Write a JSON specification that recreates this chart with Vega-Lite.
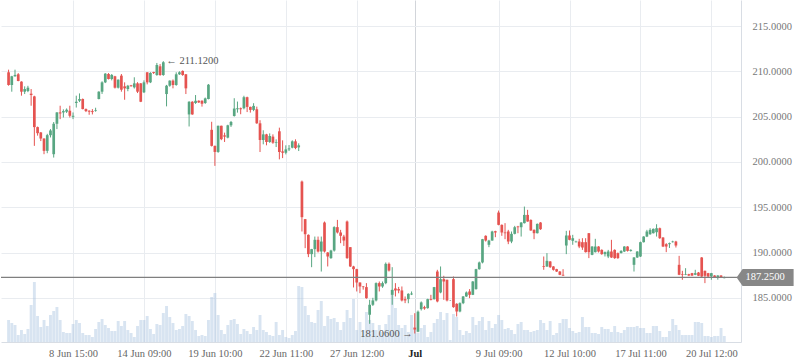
{
"$schema":"https://vega.github.io/schema/vega-lite/v6.json",
"width":740,"height":342,"padding":0,"background":"white",
"config":{"view":{"stroke":null},"font":"Liberation Serif"},
"datasets":{"candles":[
{"i":0,"o":209.89,"h":210.18,"l":208.41,"c":208.49,"v":22},
{"i":1,"o":208.49,"h":209.5,"l":207.75,"c":209.45,"v":19},
{"i":2,"o":209.45,"h":210.18,"l":209.4,"c":209.6,"v":17},
{"i":3,"o":209.67,"h":209.8,"l":208.9,"c":208.93,"v":7},
{"i":4,"o":208.86,"h":208.9,"l":207.31,"c":207.75,"v":12},
{"i":5,"o":207.75,"h":208.34,"l":207.49,"c":208.04,"v":8},
{"i":6,"o":207.82,"h":208.4,"l":207.7,"c":208.19,"v":13},
{"i":7,"o":207.53,"h":208.04,"l":206.2,"c":207.38,"v":37},
{"i":8,"o":207.23,"h":207.3,"l":201.77,"c":203.84,"v":60},
{"i":9,"o":203.84,"h":203.9,"l":202.9,"c":203.17,"v":26},
{"i":10,"o":203.25,"h":203.3,"l":202.3,"c":202.58,"v":15},
{"i":11,"o":202.58,"h":202.6,"l":200.85,"c":201.22,"v":22},
{"i":12,"o":201.22,"h":203.1,"l":200.96,"c":202.95,"v":16},
{"i":13,"o":202.95,"h":203.62,"l":202.7,"c":203.47,"v":27},
{"i":14,"o":200.85,"h":204.4,"l":200.48,"c":204.21,"v":31},
{"i":15,"o":204.21,"h":205.5,"l":203.62,"c":205.46,"v":35},
{"i":16,"o":205.46,"h":206.2,"l":204.72,"c":205.35,"v":22},
{"i":17,"o":205.46,"h":205.8,"l":204.9,"c":205.61,"v":10},
{"i":18,"o":205.54,"h":205.9,"l":205.4,"c":205.76,"v":9},
{"i":19,"o":205.65,"h":206.2,"l":204.9,"c":205.09,"v":9},
{"i":20,"o":204.98,"h":205.46,"l":204.72,"c":205.09,"v":18},
{"i":21,"o":206.5,"h":207.31,"l":206.0,"c":206.64,"v":22},
{"i":22,"o":206.75,"h":207.56,"l":206.6,"c":206.94,"v":19},
{"i":23,"o":206.94,"h":207.0,"l":205.8,"c":205.83,"v":9},
{"i":24,"o":205.83,"h":205.9,"l":205.5,"c":205.61,"v":7},
{"i":25,"o":205.65,"h":205.7,"l":205.2,"c":205.54,"v":7},
{"i":26,"o":205.6,"h":205.83,"l":205.24,"c":205.5,"v":5},
{"i":27,"o":205.65,"h":205.98,"l":205.54,"c":205.72,"v":13},
{"i":28,"o":206.94,"h":207.8,"l":206.9,"c":207.75,"v":20},
{"i":29,"o":207.75,"h":208.9,"l":207.5,"c":208.78,"v":23},
{"i":30,"o":208.78,"h":209.8,"l":208.7,"c":209.74,"v":17},
{"i":31,"o":209.7,"h":209.8,"l":209.1,"c":209.15,"v":14},
{"i":32,"o":209.15,"h":209.7,"l":209.0,"c":209.6,"v":11},
{"i":33,"o":209.45,"h":209.5,"l":208.1,"c":208.19,"v":11},
{"i":34,"o":208.19,"h":209.1,"l":208.1,"c":209.08,"v":21},
{"i":35,"o":209.52,"h":209.7,"l":207.75,"c":207.97,"v":16},
{"i":36,"o":208.34,"h":208.78,"l":206.86,"c":208.12,"v":21},
{"i":37,"o":208.04,"h":208.5,"l":207.8,"c":208.41,"v":12},
{"i":38,"o":208.45,"h":208.5,"l":208.3,"c":208.36,"v":9},
{"i":39,"o":208.23,"h":209.34,"l":208.1,"c":208.67,"v":5},
{"i":40,"o":208.67,"h":208.8,"l":207.6,"c":207.75,"v":16},
{"i":41,"o":208.67,"h":208.7,"l":206.6,"c":206.64,"v":22},
{"i":42,"o":207.68,"h":209.0,"l":207.6,"c":208.78,"v":22},
{"i":43,"o":209.89,"h":209.9,"l":208.56,"c":208.78,"v":26},
{"i":44,"o":208.78,"h":209.9,"l":208.7,"c":209.82,"v":13},
{"i":45,"o":209.92,"h":209.95,"l":209.7,"c":209.82,"v":8},
{"i":46,"o":209.59,"h":210.92,"l":209.5,"c":210.7,"v":18},
{"i":47,"o":210.55,"h":210.8,"l":209.5,"c":209.59,"v":17},
{"i":48,"o":209.59,"h":211.12,"l":209.5,"c":211.0,"v":29},
{"i":49,"o":207.49,"h":208.5,"l":206.13,"c":208.41,"v":36},
{"i":50,"o":208.41,"h":209.0,"l":208.3,"c":208.97,"v":25},
{"i":51,"o":208.97,"h":209.1,"l":208.12,"c":208.49,"v":19},
{"i":52,"o":208.49,"h":209.89,"l":208.4,"c":209.67,"v":12},
{"i":53,"o":209.67,"h":210.0,"l":209.6,"c":209.89,"v":13},
{"i":54,"o":210.04,"h":210.1,"l":209.5,"c":209.59,"v":16},
{"i":55,"o":209.67,"h":209.7,"l":207.49,"c":208.12,"v":28},
{"i":56,"o":205.24,"h":206.7,"l":203.91,"c":206.64,"v":26},
{"i":57,"o":206.64,"h":206.7,"l":205.2,"c":205.24,"v":21},
{"i":58,"o":206.5,"h":207.38,"l":206.4,"c":206.75,"v":12},
{"i":59,"o":206.75,"h":206.8,"l":206.5,"c":206.57,"v":6},
{"i":60,"o":206.75,"h":206.8,"l":206.1,"c":206.42,"v":7},
{"i":61,"o":206.5,"h":207.1,"l":206.4,"c":207.01,"v":6},
{"i":62,"o":206.94,"h":208.6,"l":206.9,"c":208.52,"v":22},
{"i":63,"o":203.54,"h":204.43,"l":201.7,"c":201.77,"v":45},
{"i":64,"o":201.77,"h":201.8,"l":199.56,"c":201.1,"v":49},
{"i":65,"o":201.1,"h":204.0,"l":201.0,"c":203.99,"v":27},
{"i":66,"o":203.99,"h":204.0,"l":202.4,"c":202.51,"v":12},
{"i":67,"o":202.93,"h":203.23,"l":202.2,"c":202.79,"v":8},
{"i":68,"o":202.68,"h":204.1,"l":202.6,"c":204.04,"v":17},
{"i":69,"o":204.04,"h":204.52,"l":203.86,"c":204.41,"v":22},
{"i":70,"o":205.07,"h":207.03,"l":205.0,"c":205.89,"v":23},
{"i":71,"o":205.81,"h":206.66,"l":205.44,"c":205.92,"v":18},
{"i":72,"o":205.92,"h":206.0,"l":205.26,"c":205.81,"v":8},
{"i":73,"o":205.92,"h":207.3,"l":205.8,"c":207.14,"v":13},
{"i":74,"o":207.14,"h":207.2,"l":205.5,"c":206.07,"v":11},
{"i":75,"o":206.07,"h":206.1,"l":205.44,"c":205.74,"v":8},
{"i":76,"o":205.74,"h":206.48,"l":205.6,"c":206.18,"v":15},
{"i":77,"o":205.81,"h":206.1,"l":204.2,"c":204.26,"v":12},
{"i":78,"o":204.26,"h":204.6,"l":201.09,"c":202.42,"v":27},
{"i":79,"o":202.42,"h":203.49,"l":201.94,"c":203.04,"v":12},
{"i":80,"o":203.04,"h":203.1,"l":201.83,"c":202.2,"v":10},
{"i":81,"o":202.2,"h":203.15,"l":202.1,"c":202.86,"v":7},
{"i":82,"o":202.79,"h":203.04,"l":202.0,"c":202.12,"v":6},
{"i":83,"o":202.12,"h":202.49,"l":201.64,"c":202.2,"v":20},
{"i":84,"o":203.38,"h":203.78,"l":200.28,"c":201.09,"v":7},
{"i":85,"o":201.16,"h":202.38,"l":200.42,"c":201.01,"v":12},
{"i":86,"o":201.01,"h":201.83,"l":200.83,"c":201.38,"v":5},
{"i":87,"o":201.38,"h":201.86,"l":201.2,"c":201.49,"v":4},
{"i":88,"o":201.57,"h":202.38,"l":201.5,"c":202.27,"v":7},
{"i":89,"o":202.27,"h":202.49,"l":201.4,"c":201.53,"v":11},
{"i":90,"o":201.6,"h":202.05,"l":201.2,"c":201.83,"v":56},
{"i":91,"o":197.83,"h":197.94,"l":192.32,"c":193.9,"v":55},
{"i":92,"o":193.68,"h":193.7,"l":190.48,"c":192.02,"v":36},
{"i":93,"o":191.95,"h":192.0,"l":189.49,"c":189.82,"v":27},
{"i":94,"o":189.82,"h":190.4,"l":188.38,"c":190.37,"v":20},
{"i":95,"o":190.37,"h":191.76,"l":189.49,"c":191.4,"v":19},
{"i":96,"o":191.4,"h":191.76,"l":190.0,"c":190.11,"v":32},
{"i":97,"o":190.11,"h":191.76,"l":187.9,"c":191.21,"v":41},
{"i":98,"o":193.31,"h":193.42,"l":190.0,"c":190.11,"v":16},
{"i":99,"o":190.0,"h":190.05,"l":188.46,"c":189.56,"v":26},
{"i":100,"o":189.38,"h":190.3,"l":189.3,"c":190.22,"v":23},
{"i":101,"o":190.22,"h":192.9,"l":190.1,"c":192.8,"v":24},
{"i":102,"o":192.8,"h":193.6,"l":192.1,"c":192.21,"v":20},
{"i":103,"o":192.21,"h":192.5,"l":191.03,"c":191.84,"v":12},
{"i":104,"o":191.76,"h":191.95,"l":190.73,"c":191.32,"v":20},
{"i":105,"o":193.42,"h":193.53,"l":189.3,"c":189.38,"v":32},
{"i":106,"o":190.59,"h":190.6,"l":188.4,"c":188.46,"v":24},
{"i":107,"o":188.46,"h":188.53,"l":186.14,"c":188.16,"v":43},
{"i":108,"o":188.16,"h":188.2,"l":185.7,"c":186.69,"v":12},
{"i":109,"o":186.69,"h":186.7,"l":185.51,"c":186.25,"v":20},
{"i":110,"o":186.25,"h":186.3,"l":185.9,"c":186.18,"v":12},
{"i":111,"o":186.18,"h":186.62,"l":184.9,"c":184.96,"v":30},
{"i":112,"o":183.13,"h":184.78,"l":182.13,"c":184.23,"v":22},
{"i":113,"o":184.23,"h":185.0,"l":184.1,"c":184.71,"v":19},
{"i":114,"o":184.71,"h":186.7,"l":184.6,"c":186.62,"v":12},
{"i":115,"o":186.62,"h":186.8,"l":185.7,"c":186.25,"v":17},
{"i":116,"o":186.25,"h":186.8,"l":186.1,"c":186.62,"v":10},
{"i":117,"o":186.62,"h":188.9,"l":186.5,"c":188.75,"v":18},
{"i":118,"o":188.75,"h":188.9,"l":187.9,"c":188.01,"v":27},
{"i":119,"o":185.33,"h":188.38,"l":184.23,"c":185.88,"v":52},
{"i":120,"o":186.03,"h":186.62,"l":185.15,"c":185.81,"v":34},
{"i":121,"o":185.96,"h":186.2,"l":185.5,"c":185.81,"v":17},
{"i":122,"o":185.81,"h":186.25,"l":184.6,"c":184.71,"v":14},
{"i":123,"o":184.85,"h":185.15,"l":184.41,"c":184.71,"v":17},
{"i":124,"o":184.85,"h":185.5,"l":184.4,"c":185.44,"v":10},
{"i":125,"o":185.37,"h":185.7,"l":185.3,"c":185.47,"v":27},
{"i":126,"o":181.7,"h":183.3,"l":181.06,"c":181.5,"v":15},
{"i":127,"o":181.26,"h":183.6,"l":181.2,"c":183.47,"v":9},
{"i":128,"o":183.75,"h":184.6,"l":183.6,"c":184.49,"v":14},
{"i":129,"o":183.97,"h":184.12,"l":183.68,"c":183.82,"v":17},
{"i":130,"o":183.86,"h":184.9,"l":183.8,"c":184.85,"v":5},
{"i":131,"o":184.85,"h":185.33,"l":184.71,"c":184.76,"v":10},
{"i":132,"o":184.85,"h":186.2,"l":184.8,"c":186.18,"v":19},
{"i":133,"o":187.9,"h":188.09,"l":184.5,"c":184.6,"v":23},
{"i":134,"o":185.59,"h":188.46,"l":185.5,"c":187.06,"v":30},
{"i":135,"o":187.06,"h":187.43,"l":184.78,"c":186.8,"v":22},
{"i":136,"o":186.99,"h":187.0,"l":184.6,"c":184.71,"v":29},
{"i":137,"o":184.71,"h":184.75,"l":184.65,"c":184.7,"v":2},
{"i":138,"o":187.06,"h":187.35,"l":183.9,"c":183.97,"v":28},
{"i":139,"o":184.34,"h":184.4,"l":182.94,"c":183.49,"v":25},
{"i":140,"o":183.49,"h":184.5,"l":183.4,"c":184.41,"v":12},
{"i":141,"o":184.41,"h":185.2,"l":184.3,"c":185.15,"v":7},
{"i":142,"o":185.15,"h":185.7,"l":185.1,"c":185.59,"v":11},
{"i":143,"o":185.7,"h":185.96,"l":184.96,"c":185.33,"v":9},
{"i":144,"o":185.33,"h":186.85,"l":185.3,"c":186.8,"v":25},
{"i":145,"o":185.96,"h":188.2,"l":185.9,"c":188.16,"v":17},
{"i":146,"o":188.16,"h":189.0,"l":188.1,"c":188.9,"v":21},
{"i":147,"o":188.9,"h":191.5,"l":188.8,"c":191.47,"v":25},
{"i":148,"o":191.84,"h":191.9,"l":191.21,"c":191.32,"v":12},
{"i":149,"o":190.85,"h":191.4,"l":190.59,"c":191.32,"v":21},
{"i":150,"o":191.32,"h":192.4,"l":191.3,"c":192.32,"v":14},
{"i":151,"o":192.35,"h":192.4,"l":191.69,"c":192.21,"v":18},
{"i":152,"o":194.41,"h":194.63,"l":193.0,"c":193.05,"v":27},
{"i":153,"o":193.05,"h":193.1,"l":191.84,"c":192.21,"v":22},
{"i":154,"o":192.21,"h":193.24,"l":191.47,"c":192.13,"v":13},
{"i":155,"o":192.32,"h":192.5,"l":190.92,"c":191.21,"v":14},
{"i":156,"o":191.21,"h":192.32,"l":191.03,"c":192.06,"v":12},
{"i":157,"o":192.06,"h":192.94,"l":192.0,"c":192.79,"v":8},
{"i":158,"o":192.87,"h":192.94,"l":192.13,"c":192.79,"v":18},
{"i":159,"o":192.79,"h":193.35,"l":191.76,"c":193.31,"v":20},
{"i":160,"o":193.24,"h":195.07,"l":193.2,"c":194.15,"v":12},
{"i":161,"o":194.15,"h":194.71,"l":193.4,"c":193.42,"v":12},
{"i":162,"o":193.6,"h":193.65,"l":192.4,"c":192.43,"v":10},
{"i":163,"o":192.5,"h":192.55,"l":191.47,"c":192.13,"v":11},
{"i":164,"o":192.13,"h":193.2,"l":192.1,"c":193.16,"v":12},
{"i":165,"o":193.31,"h":193.35,"l":192.5,"c":192.57,"v":22},
{"i":166,"o":188.5,"h":189.56,"l":188.09,"c":188.42,"v":19},
{"i":167,"o":188.46,"h":189.93,"l":188.4,"c":189.08,"v":12},
{"i":168,"o":189.01,"h":189.05,"l":188.3,"c":188.38,"v":21},
{"i":169,"o":188.46,"h":188.5,"l":188.0,"c":188.09,"v":7},
{"i":170,"o":188.16,"h":188.2,"l":187.85,"c":187.9,"v":9},
{"i":171,"o":187.9,"h":187.95,"l":187.5,"c":187.54,"v":19},
{"i":172,"o":187.54,"h":188.16,"l":187.4,"c":187.46,"v":23},
{"i":173,"o":190.77,"h":192.39,"l":189.82,"c":191.88,"v":23},
{"i":174,"o":191.88,"h":192.43,"l":191.35,"c":191.4,"v":14},
{"i":175,"o":191.29,"h":191.95,"l":190.85,"c":191.58,"v":11},
{"i":176,"o":191.14,"h":191.3,"l":191.1,"c":191.21,"v":9},
{"i":177,"o":191.21,"h":191.51,"l":190.48,"c":190.66,"v":10},
{"i":178,"o":191.14,"h":191.58,"l":190.29,"c":190.55,"v":25},
{"i":179,"o":191.14,"h":191.58,"l":190.0,"c":190.04,"v":15},
{"i":180,"o":192.13,"h":192.15,"l":189.38,"c":190.04,"v":15},
{"i":181,"o":189.74,"h":190.7,"l":189.7,"c":190.66,"v":9},
{"i":182,"o":190.04,"h":191.51,"l":190.0,"c":190.66,"v":9},
{"i":183,"o":190.66,"h":190.7,"l":190.0,"c":190.11,"v":8},
{"i":184,"o":190.29,"h":190.35,"l":189.75,"c":189.82,"v":15},
{"i":185,"o":189.82,"h":190.11,"l":189.56,"c":190.04,"v":13},
{"i":186,"o":189.56,"h":190.29,"l":189.38,"c":190.11,"v":13},
{"i":187,"o":190.11,"h":191.4,"l":189.4,"c":189.45,"v":10},
{"i":188,"o":190.29,"h":190.35,"l":189.3,"c":189.38,"v":16},
{"i":189,"o":189.93,"h":190.0,"l":189.3,"c":189.38,"v":10},
{"i":190,"o":189.93,"h":190.25,"l":189.9,"c":190.18,"v":9},
{"i":191,"o":190.11,"h":190.7,"l":190.05,"c":190.66,"v":12},
{"i":192,"o":190.66,"h":190.7,"l":190.1,"c":190.18,"v":15},
{"i":193,"o":190.18,"h":190.35,"l":190.1,"c":190.29,"v":15},
{"i":194,"o":188.64,"h":189.5,"l":187.9,"c":189.45,"v":15},
{"i":195,"o":189.45,"h":190.15,"l":189.4,"c":190.11,"v":16},
{"i":196,"o":189.56,"h":191.2,"l":189.5,"c":191.14,"v":14},
{"i":197,"o":191.14,"h":191.8,"l":191.1,"c":191.76,"v":14},
{"i":198,"o":191.76,"h":192.5,"l":191.7,"c":192.32,"v":9},
{"i":199,"o":192.02,"h":192.68,"l":191.95,"c":192.5,"v":9},
{"i":200,"o":192.13,"h":192.65,"l":192.1,"c":192.61,"v":16},
{"i":201,"o":192.24,"h":193.12,"l":191.76,"c":192.68,"v":16},
{"i":202,"o":192.68,"h":192.75,"l":191.5,"c":191.58,"v":11},
{"i":203,"o":191.65,"h":191.7,"l":190.6,"c":190.66,"v":5},
{"i":204,"o":190.92,"h":191.03,"l":190.04,"c":190.66,"v":5},
{"i":205,"o":190.92,"h":191.1,"l":190.5,"c":191.03,"v":11},
{"i":206,"o":191.14,"h":191.3,"l":191.1,"c":191.21,"v":23},
{"i":207,"o":191.21,"h":191.29,"l":190.55,"c":190.77,"v":17},
{"i":208,"o":188.64,"h":189.63,"l":187.5,"c":187.54,"v":12},
{"i":209,"o":187.61,"h":187.98,"l":186.99,"c":187.54,"v":7},
{"i":210,"o":187.54,"h":188.27,"l":187.5,"c":187.61,"v":7},
{"i":211,"o":187.61,"h":187.65,"l":187.4,"c":187.46,"v":7},
{"i":212,"o":187.72,"h":187.75,"l":187.4,"c":187.46,"v":7},
{"i":213,"o":187.54,"h":188.09,"l":187.5,"c":187.72,"v":20},
{"i":214,"o":187.79,"h":187.85,"l":187.4,"c":187.43,"v":20},
{"i":215,"o":189.45,"h":189.5,"l":187.3,"c":187.35,"v":19},
{"i":216,"o":187.98,"h":188.0,"l":186.62,"c":187.43,"v":6},
{"i":217,"o":187.72,"h":187.75,"l":187.3,"c":187.35,"v":6},
{"i":218,"o":187.35,"h":187.75,"l":186.99,"c":187.72,"v":5},
{"i":219,"o":187.46,"h":187.5,"l":187.2,"c":187.28,"v":6},
{"i":220,"o":187.28,"h":187.5,"l":187.0,"c":187.46,"v":6},
{"i":221,"o":187.46,"h":187.5,"l":187.2,"c":187.24,"v":14},
{"i":222,"o":187.17,"h":187.35,"l":187.15,"c":187.25,"v":6}
]},
"layer":[
{"data":{"name":"candles"},
 "mark":{"type":"bar","width":2.9,"color":"#a9c3e0","opacity":0.45},
 "encoding":{
  "x":{"field":"i","type":"quantitative","title":null,"scale":{"domain":[-0.796,225.64],"nice":false,"zero":false},
   "axis":{"values":[20,42,64,86,108,126,152,174,196,218],
    "labelExpr":"datum.value==20?'8 Jun 15:00':datum.value==42?'14 Jun 09:00':datum.value==64?'19 Jun 10:00':datum.value==86?'22 Jun 11:00':datum.value==108?'27 Jun 12:00':datum.value==126?'Jul':datum.value==152?'9 Jul 09:00':datum.value==174?'12 Jul 10:00':datum.value==196?'17 Jul 11:00':'20 Jul 12:00'",
    "title":null,"grid":true,"orient":"bottom",
    "gridColor":{"condition":{"test":"datum.value==126","value":"#d2d5da"},"value":"#e9ecf0"},
    "ticks":false,"domain":true,"domainColor":"#d8dde4",
    "labelColor":{"condition":{"test":"datum.value==126","value":"#222222"},"value":"#666666"},
    "labelFontWeight":{"condition":{"test":"datum.value==126","value":"bold"},"value":"normal"},
    "labelFont":"Liberation Serif","labelFontSize":10.5,"labelPadding":6,"labelFlush":false,"labelOverlap":false}},
  "y":{"field":"v","type":"quantitative","scale":{"domain":[0,342],"nice":false,"zero":true},"axis":null}}},
{"data":{"name":"candles"},
 "mark":{"type":"rule","strokeWidth":1},
 "encoding":{
  "x":{"field":"i","type":"quantitative","title":null,"scale":{"domain":[-0.796,225.64],"nice":false,"zero":false}},
  "y":{"field":"l","type":"quantitative","scale":{"domain":[180.122,217.87],"nice":false,"zero":false},
   "axis":{"orient":"right","values":[185,190,195,200,205,210,215],"format":".4f","title":null,"grid":true,"gridColor":"#e9ecf0","ticks":false,"domainColor":"#d8dde4","labelColor":"#777777","labelFont":"Liberation Serif","labelFontSize":10.5,"labelPadding":11}},
  "y2":{"field":"h"},
  "color":{"condition":[{"test":"abs(datum.c-datum.o)<0.03","value":"#888888"},{"test":"datum.c>datum.o","value":"#58a682"}],"value":"#e55350"}}},
{"data":{"name":"candles"},
 "mark":{"type":"bar","width":2.7},
 "encoding":{
  "x":{"field":"i","type":"quantitative","title":null,"scale":{"domain":[-0.796,225.64],"nice":false,"zero":false}},
  "y":{"field":"o","type":"quantitative","scale":{"domain":[180.122,217.87],"nice":false,"zero":false},"axis":null},
  "y2":{"field":"c"},
  "color":{"condition":[{"test":"abs(datum.c-datum.o)<0.03","value":"#888888"},{"test":"datum.c>datum.o","value":"#58a682"}],"value":"#e55350"}}},
{"data":{"values":[{"p":187.25,"t":"187.2500"}]},
 "mark":{"type":"rule","color":"#7f7f7f","strokeWidth":1.3},
 "encoding":{"y":{"field":"p","type":"quantitative","scale":{"domain":[180.122,217.87],"nice":false,"zero":false},"axis":null}}},
{"data":{"values":[{"i":48,"p":211.12,"t":"← 211.1200"}]},
 "mark":{"type":"text","align":"left","baseline":"middle","dx":3,"font":"Liberation Serif","fontSize":10.5,"color":"#555555"},
 "encoding":{
  "x":{"field":"i","type":"quantitative","title":null,"scale":{"domain":[-0.796,225.64],"nice":false,"zero":false}},
  "y":{"field":"p","type":"quantitative","scale":{"domain":[180.122,217.87],"nice":false,"zero":false},"axis":null},
  "text":{"field":"t"}}},
{"data":{"values":[{"i":126,"p":181.06,"t":"181.0600 →"}]},
 "mark":{"type":"text","align":"right","baseline":"middle","dx":-2,"font":"Liberation Serif","fontSize":10.5,"color":"#555555"},
 "encoding":{
  "x":{"field":"i","type":"quantitative","title":null,"scale":{"domain":[-0.796,225.64],"nice":false,"zero":false}},
  "y":{"field":"p","type":"quantitative","scale":{"domain":[180.122,217.87],"nice":false,"zero":false},"axis":null},
  "text":{"field":"t"}}},
{"data":{"values":[{"p":187.25,"t":"187.2500"}]},
 "mark":{"type":"point","filled":true,"shape":"M-1,0L-0.79,-0.298L1,-0.298L1,0.298L-0.79,0.298Z","size":3249,"color":"#878787","opacity":1,"strokeWidth":0},
 "encoding":{
  "x":{"datum":234.67,"type":"quantitative","title":null,"scale":{"domain":[-0.796,225.64],"nice":false,"zero":false}},
  "y":{"field":"p","type":"quantitative","scale":{"domain":[180.122,217.87],"nice":false,"zero":false},"axis":null}}},
{"data":{"values":[{"p":187.25,"t":"187.2500"}]},
 "mark":{"type":"text","align":"center","baseline":"middle","font":"Liberation Serif","fontSize":10.5,"color":"#ffffff"},
 "encoding":{
  "x":{"datum":234.67,"type":"quantitative","title":null,"scale":{"domain":[-0.796,225.64],"nice":false,"zero":false}},
  "y":{"field":"p","type":"quantitative","scale":{"domain":[180.122,217.87],"nice":false,"zero":false},"axis":null},
  "text":{"field":"t"}}}
],
"resolve":{"scale":{"y":"independent"}}
}
